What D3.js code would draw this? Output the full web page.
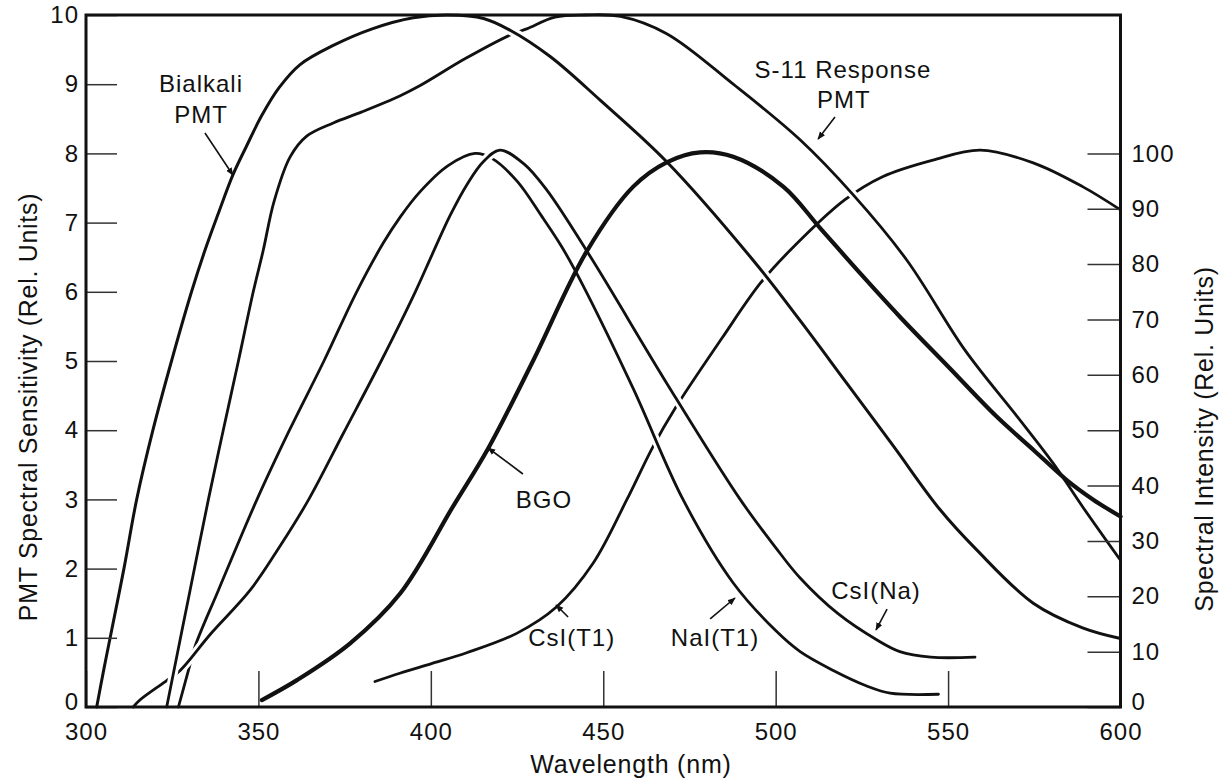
<!DOCTYPE html>
<html><head><meta charset="utf-8">
<script src="https://cdn.jsdelivr.net/npm/d3@7"></script>
<style>
html,body{margin:0;padding:0;background:#fff;}
svg{display:block;}
text{font-family:"Liberation Sans",Arial,Helvetica,sans-serif;fill:#111;}
</style></head><body>
<svg id="chart" width="1221" height="780"></svg>
<script>
// ---------- tick labels ----------
const wavelengthTicks = [300, 350, 400, 450, 500, 550, 600];
const sensitivityTicks = [0, 1, 2, 3, 4, 5, 6, 7, 8, 9, 10];
const intensityTicks = [0, 10, 20, 30, 40, 50, 60, 70, 80, 90, 100];

// ---------- PMT spectral sensitivity (left axis, rel. units) ----------
const bialkaliPMT = [[303.1,0],[305,0.5],[307,1],[311,2],[314.7,3],[319.4,4],[324.8,5],[330.6,6],[334.5,6.6],[338.5,7.15],[342.6,7.69],[346.5,8.1],[351,8.55],[356,8.95],[362,9.28],[371.7,9.56],[383,9.8],[394.9,9.96],[405,10],[415.3,9.95],[423,9.78],[434.6,9.4],[449.1,8.77],[468.4,7.88],[493.4,6.46],[507,5.59],[520,4.72],[534,3.78],[547.7,2.85],[558.3,2.27],[574.7,1.5],[589.2,1.14],[600,0.99]];
const s11PMT = [[323.4,0],[326.8,0.85],[330.2,1.69],[335.5,3],[339.8,4],[344.2,5],[348.5,6],[351.4,6.6],[354.5,7.3],[359.2,7.95],[364,8.25],[371.7,8.44],[380,8.6],[391,8.83],[396.9,8.98],[410,9.37],[423,9.71],[427.8,9.8],[436,9.97],[445,10],[455,9.98],[468.4,9.73],[487.7,9.0],[507,8.2],[522.5,7.4],[538,6.46],[555,5.15],[570,4.2],[580.5,3.52],[589.2,2.88],[600,2.12]];

// ---------- scintillator emission (right axis, rel. units) ----------
const naiTl = [[326.8,0],[329.7,6.6],[331.6,10.9],[338.4,21.1],[349.6,37.5],[359,50],[369,62.5],[378.5,75],[386.2,83.8],[391.1,88.5],[396.9,93.1],[405,97.8],[412.8,100],[417.7,99.1],[425,95],[432,88.8],[438,83.1],[444,76.3],[458.7,57.5],[473.2,37.4],[487.7,22.4],[500,13.8],[507.1,10],[516.7,6.6],[526.4,3.8],[533.2,2.5],[547.2,2.3]];
const csiNa = [[313.7,0],[315.7,1.3],[323,4.6],[327.3,6.6],[336,13.1],[347.6,21.1],[356,28.8],[364.6,37.5],[374.6,49.4],[385.6,62.5],[395.5,75],[400.5,81.9],[405.6,88.8],[410.5,94.4],[415.2,98.5],[420,100.6],[427,98.1],[433.6,93.4],[446.2,81.4],[468.4,58.5],[489.7,37.5],[500,28.8],[507.1,23.3],[518,16.9],[529.4,12.1],[536,10],[545,9],[557.8,9]];
const csiTl = [[383.8,4.6],[391,6.1],[400,7.8],[410.4,9.8],[424.9,13.3],[436.5,18.1],[447.1,26],[456.8,37.4],[464.4,47],[470.9,54],[484.4,66.6],[495.5,76.5],[504.2,82.5],[520,91.6],[531,95.8],[545.6,98.8],[559.3,100.6],[574.7,98.3],[589,94],[600,89.8]];
const bgo = [[351,1.25],[361.3,4.9],[376.6,11.5],[391.1,20.5],[406.5,36.3],[416.7,46.8],[429.7,62.6],[445.2,82.3],[458.7,94],[468.4,98.4],[478.1,100.2],[487.7,99.4],[502.2,94],[512.9,86.5],[525,78],[536,70.5],[550,61.5],[564,52.5],[575,46.3],[584.4,41],[592,37.5],[600,34.4]];

// ---------- annotations (wavelength, left-axis units) ----------
const labelTexts = ["Bialkali", "PMT", "S-11 Response", "PMT", "BGO", "CsI(T1)", "NaI(T1)", "CsI(Na)"];
const labelAt = [[333.35,8.887],[333.35,8.439],[519.5,9.09],[519.8,8.66],[432.8,2.876],[440.85,0.881],[482.4,0.881],[529.1,1.561]];
const arrowFrom = [[334.5,8.295],[517.2,8.526],[426.7,3.367],[439.8,1.30],[481.0,1.272],[532.3,1.416]];
const arrowTo = [[342.6,7.688],[512.3,8.208],[416.6,3.743],[436.3,1.474],[488.2,1.575],[529.1,1.113]];

const xTitle = "Wavelength (nm)";
const yLeftTitle = "PMT Spectral Sensitivity (Rel. Units)";
const yRightTitle = "Spectral Intensity (Rel. Units)";

// ---------- scales ----------
const X0 = 86, X1 = 1120.5, YB = 707, YT = 15;
const x = d3.scaleLinear().domain([300, 600]).range([X0, X1]);
const yL = d3.scaleLinear().domain([0, 10]).range([YB, YT]);
const yR = d3.scaleLinear().domain([0, 125]).range([YB, YT]);

const svg = d3.select("#chart");
svg.append("rect").attr("width", 1221).attr("height", 780).attr("fill", "#fff");

svg.append("defs").append("marker")
  .attr("id", "ah").attr("viewBox", "0 0 10 10").attr("refX", 9).attr("refY", 5)
  .attr("markerWidth", 8).attr("markerHeight", 8).attr("markerUnits", "userSpaceOnUse")
  .attr("orient", "auto")
  .append("path").attr("d", "M0,1 L10,5 L0,9 Z").attr("fill", "#111");

const curveType = d3.curveCatmullRom.alpha(0.5);
const lineL = d3.line().x(d => x(d[0])).y(d => yL(d[1])).curve(curveType);
const lineR = d3.line().x(d => x(d[0])).y(d => yR(d[1])).curve(curveType);

const curves = svg.append("g").attr("fill", "none").attr("stroke-linecap", "round").attr("stroke-linejoin", "round");
function draw(data, gen, width, halo) {
  if (halo) curves.append("path").attr("d", gen(data)).attr("stroke", "#fff").attr("stroke-width", width + 6).attr("stroke-linecap", "butt");
  curves.append("path").attr("d", gen(data)).attr("stroke", "#111").attr("stroke-width", width);
}
draw(csiTl, lineR, 2.8, false);
draw(naiTl, lineR, 2.8, true);
draw(csiNa, lineR, 2.8, true);
draw(s11PMT, lineL, 2.8, true);
draw(bialkaliPMT, lineL, 3, true);
draw(bgo, lineR, 4.2, false);

// ---------- axes ----------
const tickFont = g => g.selectAll("text").attr("font-size", 24).attr("letter-spacing", 1).attr("fill", "#111")
  .attr("font-family", '"Liberation Sans",Arial,sans-serif');
const tickLine = g => g.selectAll("line").attr("stroke", "#333").attr("stroke-width", 1.5);

const gL = svg.append("g").attr("transform", `translate(${X0},0)`)
  .call(d3.axisLeft(yL).tickValues(sensitivityTicks).tickSize(-31).tickPadding(7).tickFormat(d3.format("d")));
gL.select(".domain").remove(); tickFont(gL); tickLine(gL);
gL.selectAll(".tick").filter(d => d === 0).select("text").attr("y", -5);

const gR = svg.append("g").attr("transform", `translate(${X1},0)`)
  .call(d3.axisRight(yR).tickValues(intensityTicks).tickSize(-33).tickPadding(11).tickFormat(d3.format("d")));
gR.select(".domain").remove(); tickFont(gR); tickLine(gR);
gR.selectAll(".tick").filter(d => d === 0).select("text").attr("y", -5);

const gB = svg.append("g").attr("transform", `translate(0,${YB})`)
  .call(d3.axisBottom(x).tickValues(wavelengthTicks).tickSize(-36).tickPadding(16).tickFormat(d3.format("d")));
gB.select(".domain").remove(); tickFont(gB); tickLine(gB);

// frame
svg.append("path")
  .attr("d", `M${X0},${YT} L${X1},${YT} L${X1},${YB} L${X0},${YB} Z`)
  .attr("fill", "none").attr("stroke", "#111").attr("stroke-width", 3);

// ---------- axis titles ----------
svg.append("text").attr("x", 631).attr("y", 773).attr("text-anchor", "middle")
  .attr("font-size", 25).attr("letter-spacing", 0.8).text(xTitle);
svg.append("text").attr("transform", "translate(28,407) rotate(-90)").attr("text-anchor", "middle")
  .attr("dominant-baseline", "central").attr("font-size", 25).attr("letter-spacing", 0.7).text(yLeftTitle);
svg.append("text").attr("transform", "translate(1204,439) rotate(-90)").attr("text-anchor", "middle")
  .attr("dominant-baseline", "central").attr("font-size", 25).attr("letter-spacing", 0.7).text(yRightTitle);

// ---------- annotations ----------
svg.append("g").selectAll("text").data(labelTexts).join("text")
  .attr("x", (d, i) => x(labelAt[i][0])).attr("y", (d, i) => yL(labelAt[i][1]))
  .attr("text-anchor", "middle").attr("font-size", 24).attr("letter-spacing", 1).text(d => d);

svg.append("g").selectAll("line").data(arrowFrom).join("line")
  .attr("x1", d => x(d[0])).attr("y1", d => yL(d[1]))
  .attr("x2", (d, i) => x(arrowTo[i][0])).attr("y2", (d, i) => yL(arrowTo[i][1]))
  .attr("stroke", "#111").attr("stroke-width", 1.6).attr("marker-end", "url(#ah)");
</script></body></html>
